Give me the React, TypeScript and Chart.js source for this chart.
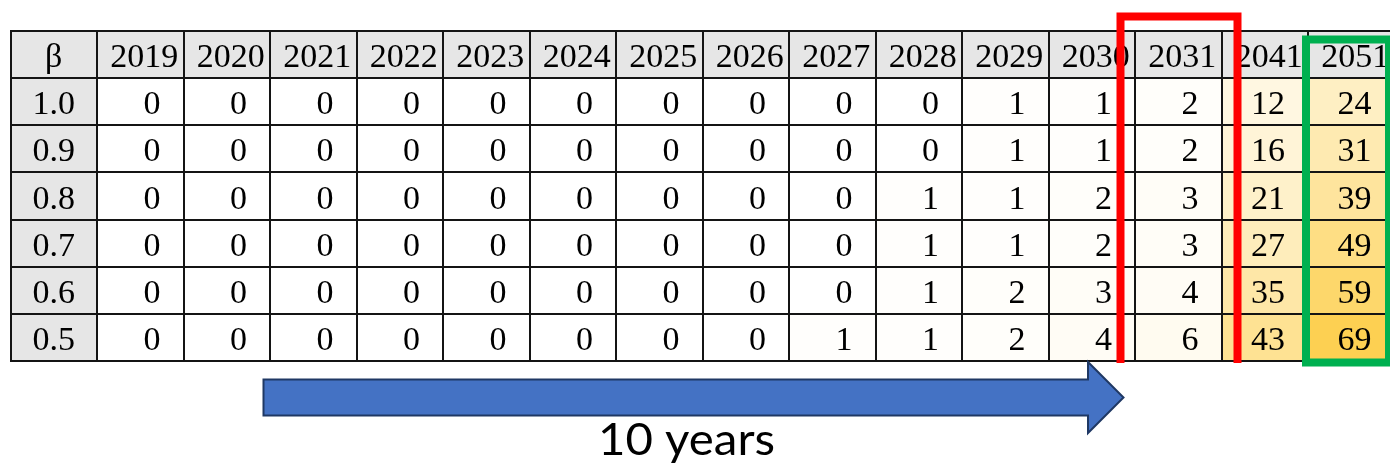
import React, { useEffect, useRef } from "react";
import { Chart, registerables } from "chart.js";

Chart.register(...registerables);

// ---- data ----
const columns = ["β", "2019", "2020", "2021", "2022", "2023", "2024", "2025", "2026", "2027", "2028", "2029", "2030", "2031", "2041", "2051"];
const betas = ["1.0", "0.9", "0.8", "0.7", "0.6", "0.5"];
const beta10 = [0, 0, 0, 0, 0, 0, 0, 0, 0, 0, 1, 1, 2, 12, 24];
const beta09 = [0, 0, 0, 0, 0, 0, 0, 0, 0, 0, 1, 1, 2, 16, 31];
const beta08 = [0, 0, 0, 0, 0, 0, 0, 0, 0, 1, 1, 2, 3, 21, 39];
const beta07 = [0, 0, 0, 0, 0, 0, 0, 0, 0, 1, 1, 2, 3, 27, 49];
const beta06 = [0, 0, 0, 0, 0, 0, 0, 0, 0, 1, 2, 3, 4, 35, 59];
const beta05 = [0, 0, 0, 0, 0, 0, 0, 0, 1, 1, 2, 4, 6, 43, 69];
const rowsData = [beta10, beta09, beta08, beta07, beta06, beta05];
const arrowLabel = "10 years";

// ---- styles ----
const HEADER_BG = "#e6e6e6";
const LINE = "#141414";
const HEAT_MAX = 69;
const HEAT_LOW = [255, 255, 255];
const HEAT_HIGH = [253, 208, 82];
const TABLE_FONT = '34px "Liberation Serif", "Times New Roman", serif';

function heat(v: number): string {
  const t = Math.max(0, Math.min(1, v / HEAT_MAX));
  const c = HEAT_LOW.map((lo, i) => Math.round(lo + (HEAT_HIGH[i] - lo) * t));
  return `rgb(${c[0]},${c[1]},${c[2]})`;
}

const tableTextPlugin = {
  id: "tableText",
  afterDraw(chart: any) {
    const { ctx, scales } = chart;
    const x = scales.x;
    const y = scales.y;
    const half = (x.getPixelForValue(1) - x.getPixelForValue(0)) / 2;
    ctx.save();
    ctx.fillStyle = "#000";
    ctx.font = TABLE_FONT;
    ctx.textBaseline = "alphabetic";
    // header row
    columns.forEach((c, i) => {
      ctx.textAlign = "center";
      ctx.fillText(c, x.getPixelForValue(i) + (i === 0 ? 0 : 4), y.getPixelForValue(0.5) + 12);
    });
    // data rows
    rowsData.forEach((row, r) => {
      const cy = y.getPixelForValue(r + 1.5) + 12.5;
      ctx.textAlign = "center";
      ctx.fillText(betas[r], x.getPixelForValue(0), cy);
      ctx.textAlign = "right";
      row.forEach((v, i) => {
        ctx.fillText(String(v), x.getPixelForValue(i + 1) + half - 23, cy);
      });
    });
    ctx.restore();

    // annotations
    const bound = (k: number) => x.getPixelForValue(k) - half; // left boundary of column k
    const top = chart.chartArea.top;
    const bottom = chart.chartArea.bottom;
    ctx.save();
    // red box around 2031
    ctx.strokeStyle = "#ff0000";
    ctx.lineWidth = 8;
    ctx.lineJoin = "miter";
    ctx.beginPath();
    ctx.moveTo(bound(13) - 14.5, bottom + 2);
    ctx.lineTo(bound(13) - 14.5, top - 14.5);
    ctx.lineTo(bound(14) + 16, top - 14.5);
    ctx.lineTo(bound(14) + 16, bottom + 2);
    ctx.stroke();
    // green box around 2051
    ctx.strokeStyle = "#00b050";
    ctx.lineWidth = 8;
    ctx.beginPath();
    ctx.rect(bound(15) - 2, top + 8.5, 83, bottom + 1.5 - (top + 8.5));
    ctx.stroke();
    // blue arrow
    const L = bound(3) - 6.5;
    const hb = bound(13) - 47;
    const tip = bound(13) - 11.5;
    const mid = bottom + 36.5;
    const sT = mid - 18;
    const sB = mid + 18;
    const hT = mid - 35.5;
    const hB = mid + 35.5;
    ctx.beginPath();
    ctx.moveTo(L, sT);
    ctx.lineTo(hb, sT);
    ctx.lineTo(hb, hT);
    ctx.lineTo(tip, mid);
    ctx.lineTo(hb, hB);
    ctx.lineTo(hb, sB);
    ctx.lineTo(L, sB);
    ctx.closePath();
    ctx.fillStyle = "#4472c4";
    ctx.fill();
    ctx.strokeStyle = "#1f3864";
    ctx.lineWidth = 2;
    ctx.stroke();
    // label
    ctx.font = '44px Lato, "Open Sans", sans-serif';
    ctx.fillStyle = "#000";
    ctx.textAlign = "left";
    ctx.textBaseline = "alphabetic";
    const w = ctx.measureText(arrowLabel).width;
    const targetW = 177;
    const cx = (L + tip) / 2 - 7;
    ctx.translate(cx - targetW / 2, bottom + 94);
    ctx.scale(targetW / w, 1);
    ctx.fillText(arrowLabel, 0, 0);
    ctx.restore();
  },
};

export default function App() {
  const ref = useRef<HTMLCanvasElement | null>(null);
  useEffect(() => {
    if (!ref.current) return;
    const datasets = [0, 1, 2, 3, 4, 5, 6].map((r) => ({
      label: r === 0 ? "header" : betas[r - 1],
      data: columns.map(() => [r, r + 1]),
      backgroundColor: columns.map((_, i) =>
        r === 0 || i === 0 ? HEADER_BG : heat(rowsData[r - 1][i - 1])
      ),
      borderWidth: 0,
      barPercentage: 1,
      categoryPercentage: 1,
      grouped: false,
    }));
    const chart = new Chart(ref.current, {
      type: "bar",
      data: { labels: columns, datasets: datasets as any },
      options: {
        animation: false,
        responsive: false,
        devicePixelRatio: 1,
        events: [],
        layout: { padding: { left: 10.5, right: 5.5, top: 31, bottom: 104 } },
        plugins: { legend: { display: false }, tooltip: { enabled: false } },
        scales: {
          x: {
            type: "category",
            offset: true,
            ticks: { display: false },
            grid: { offset: true, color: LINE, lineWidth: 2, drawTicks: false, z: 1 },
            border: { display: true, color: LINE, width: 2, z: 1 },
          },
          y: {
            type: "linear",
            reverse: true,
            min: 0,
            max: 7,
            ticks: { display: false, stepSize: 1 },
            grid: { color: LINE, lineWidth: 2, drawTicks: false, z: 1 },
            border: { display: true, color: LINE, width: 2, z: 1 },
          },
        },
      } as any,
      plugins: [tableTextPlugin],
    });
    return () => chart.destroy();
  }, []);
  return (
    <div style={{ position: "fixed", left: 0, top: 0, width: 1390, height: 465, overflow: "hidden", background: "#fff" }}>
      <canvas ref={ref} width={1400} height={465} style={{ width: 1400, height: 465, display: "block" }} />
    </div>
  );
}
